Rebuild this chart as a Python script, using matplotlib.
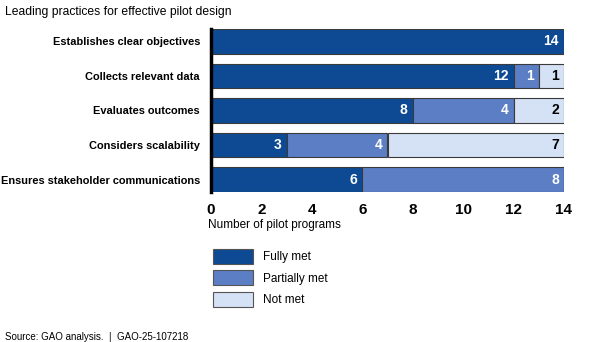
import numpy as np
import matplotlib
matplotlib.use("Agg")
import matplotlib.pyplot as plt
from matplotlib.patches import Patch

# Datos
practicas = ['Establishes clear objectives', 'Collects relevant data',
             'Evaluates outcomes', 'Considers scalability',
             'Ensures stakeholder communications']
fully_met = [14, 12, 8, 3, 6]
partially_met = [0, 1, 4, 4, 8]
not_met = [0, 1, 2, 7, 0]
series_names = ['Fully met', 'Partially met', 'Not met']
colores = ['#0D4A93', '#5B7EC5', '#D5E1F4']
texto_col = ['white', 'white', 'black']
xticks = [0, 2, 4, 6, 8, 10, 12, 14]

fuente = 'Liberation Sans'

fig = plt.figure(figsize=(6, 3.42), dpi=100)
ax = fig.add_axes([211/600, 1-192/342, (564-211)/600, 163/342])

yy = np.arange(len(practicas))
left = np.zeros(len(practicas))
for vals, nom, col, tc in zip([fully_met, partially_met, not_met], series_names, colores, texto_col):
    vals = np.array(vals, dtype=float)
    ax.barh(yy, vals, left=left, height=0.72, color=col, edgecolor='#3a3a3a',
            linewidth=0.8, label=nom)
    for i, v in enumerate(vals):
        if v > 0:
            ax.text(left[i] + v - 0.2, yy[i], '%d' % v, ha='right', va='center',
                    color=tc, fontsize=10, fontweight='bold', family=fuente)
    left += vals

ax.set_xlim(0, 14)
ax.set_ylim(4.36, -0.36)
ax.set_yticks(yy)
ax.set_yticklabels(practicas, fontsize=7.9, fontweight='bold', family=fuente)
ax.set_xticks(xticks)
ax.set_xticklabels([str(t) for t in xticks], fontsize=11, fontweight='bold', family=fuente)
ax.tick_params(axis='both', length=0)
ax.tick_params(axis='x', pad=8)
ax.tick_params(axis='y', pad=8)
for s in ['top', 'right', 'bottom']:
    ax.spines[s].set_visible(False)
ax.spines['left'].set_linewidth(2.5)
ax.spines['left'].set_color('black')

fig.text(208/600, 1-225/342, 'Number of pilot programs', fontsize=8.5,
         family=fuente, va='center', ha='left')
fig.text(5/600, 1-12/342, 'Leading practices for effective pilot design',
         fontsize=8.7, family=fuente, va='center', ha='left')
fig.text(5/600, 1-337/342, 'Source: GAO analysis.  |  GAO-25-107218',
         fontsize=7, family=fuente, va='center', ha='left')

handles = [Patch(facecolor=c, edgecolor='#555555', linewidth=0.8) for c in colores]
fig.legend(handles, series_names, loc='upper left',
           bbox_to_anchor=(202/600, 1-238/342), frameon=False,
           prop={'family': fuente, 'size': 8.5}, handlelength=3.4,
           handleheight=1.6, labelspacing=0.55, handletextpad=0.9)

fig.savefig('out.png', dpi=100)
